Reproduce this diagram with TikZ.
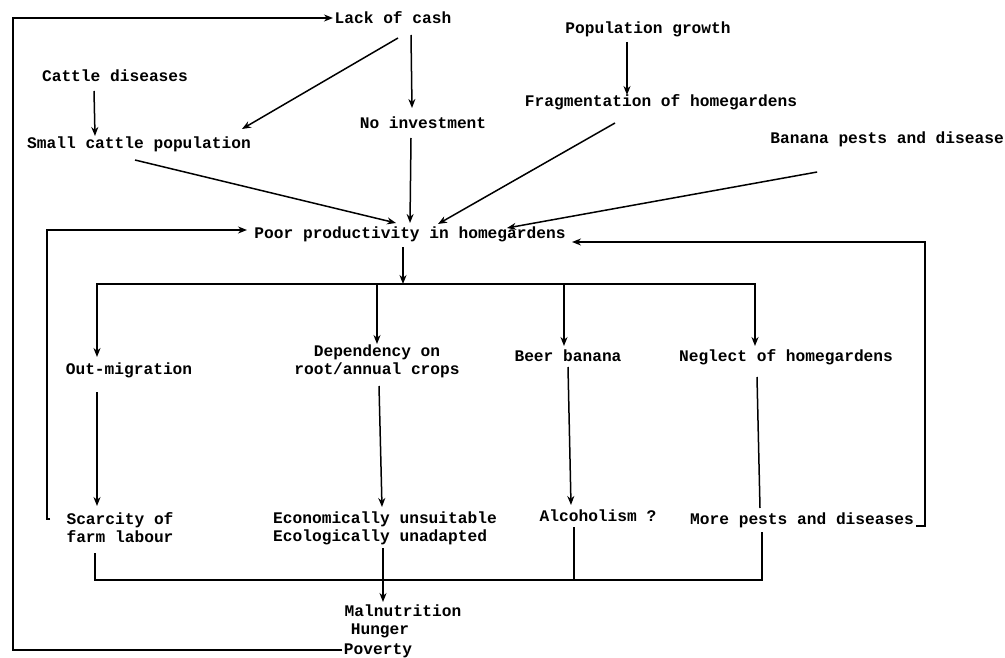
\documentclass[tikz,border=0pt]{standalone}
\usepackage{fontspec}
\setmainfont{Liberation Mono}
\usetikzlibrary{calc,arrows.meta}
\begin{document}
\begin{tikzpicture}[x=1pt,y=-1pt,
  lbl/.style={inner sep=0pt, font=\fontsize{16.2}{18}\selectfont\bfseries, text height=11pt, text depth=3pt},
  lbl2/.style={inner sep=0pt, font=\fontsize{16.2}{18}\selectfont\bfseries},
  ln/.style={line width=1.5pt},
  arr/.style={ln,-{Stealth[length=9pt,width=7pt]}}]
\path[use as bounding box] (0,0) rectangle (1005,658);

% nodes
\node[lbl] (lack)   at (393,20)  {Lack of cash};
\node[lbl] (cattle) at (115,78)  {Cattle diseases};
\node[lbl] (small)  at (139,145) {Small cattle population};
\node[lbl] (noinv)  at (423,125) {No investment};
\node[lbl] (popg)   at (648,30)  {Population growth};
\node[lbl] (frag)   at (661,103) {Fragmentation of homegardens};
\node[lbl,anchor=east] (ban) at (1004,140) {Banana pests and disease};
\node[lbl] (poor)   at (410,235) {Poor productivity in homegardens};
\node[lbl] (outm)   at (129,370) {Out-migration};
\node[lbl2,align=center] (dep) at (377,361) {Dependency on\\root/annual crops};
\node[lbl] (beer)   at (568,357) {Beer banana};
\node[lbl] (neg)    at (786,357) {Neglect of homegardens};
\node[lbl2,align=center] (scar) at (120,528) {Scarcity of\\farm labour};
\node[lbl2,align=left] (econ) at (385,528) {Economically unsuitable\\Ecologically unadapted};
\node[lbl] (alc)    at (598,517) {Alcoholism ?};
\node[lbl] (more)   at (802,520) {More pests and diseases};
\node[lbl] (mal)    at (403,612) {Malnutrition};
\node[lbl] (hun)    at (380,630) {Hunger};
\node[lbl] (pov)    at (378,650) {Poverty};

\coordinate (bar) at (403,284);
\coordinate (col) at (383,580);

% upper causes
\draw[arr] ($(cattle)+(-21,13)$) -- ($(small)+(-44,-9)$);
\draw[arr] ($(lack)+(5,18)$) -- ($(small)+(103,-16)$);
\draw[arr] ($(lack)+(18,15)$) -- ($(noinv)+(-11,-17)$);
\draw[arr] ($(noinv)+(-12,13)$) -- ($(poor)+(0,-12)$);
\draw[arr] ($(small)+(-4,15)$) -- ($(poor)+(-14,-12)$);
\draw[arr] ($(popg)+(-21,12)$) -- ($(frag)+(-34,-8)$);
\draw[arr] ($(frag)+(-46,20)$) -- ($(poor)+(28,-11)$);
\draw[arr] ($(ban)+(-70,32)$) -- ($(poor)+(97,-7)$);

% loops into poor productivity
\draw[arr] ($(scar)+(-70,-9)$) -| ($(poor)+(-363,-5)$) -- ($(poor)+(-163,-5)$);
\draw[arr] ($(more)+(114,6)$) -| ($(poor)+(515,7)$) -- ($(poor)+(162,7)$);

% branching bar
\draw[arr] ($(poor)+(-7,12)$) -- (bar);
\draw[arr] (bar) -| ($(outm)+(-32,-13)$);
\draw[arr] (bar) -| ($(dep)+(0,-17)$);
\draw[arr] (bar) -| ($(beer)+(-4,-11)$);
\draw[arr] (bar) -| ($(neg)+(-31,-11)$);

% second level
\draw[arr] ($(outm)+(-32,22)$) -- ($(scar)+(-23,-22)$);
\draw[arr] ($(dep)+(2,25)$) -- ($(econ)+(-3,-21)$);
\draw[arr] ($(beer)+(0,10)$) -- ($(alc)+(-27,-12)$);
\draw[ln] ($(neg)+(-29,20)$) -- ($(more)+(-42,-12)$);

% collector
\draw[ln] ($(scar)+(-25,25)$) |- (col);
\draw[ln] ($(more)+(-40,12)$) |- (col);
\draw[ln] ($(econ)+(-2,20)$) -- (col);
\draw[ln] ($(alc)+(-24,10)$) -- ($(alc)+(-24,63)$);
\draw[arr] (col) -- ($(mal)+(-20,-10)$);

% feedback poverty -> lack of cash
\draw[arr] ($(pov)+(-36,0)$) -| ($(lack)+(-380,-2)$) -- ($(lack)+(-60,-2)$);
\end{tikzpicture}
\end{document}
